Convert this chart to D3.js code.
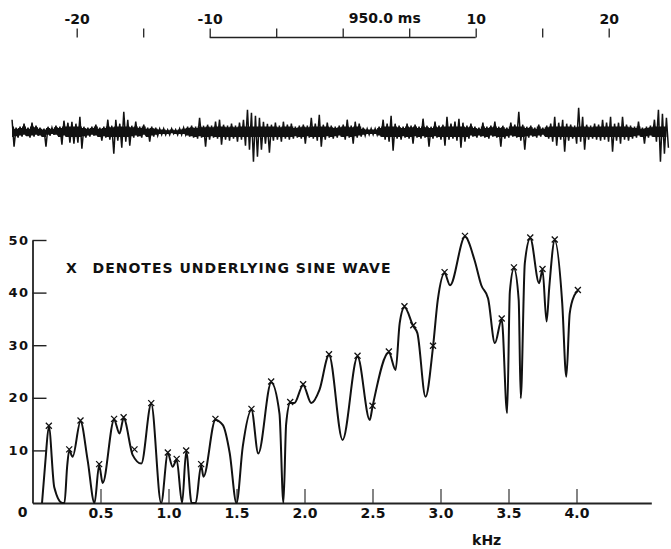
<!DOCTYPE html>
<html>
<head>
<meta charset="utf-8">
<script src="https://cdn.jsdelivr.net/npm/d3@7"></script>
<style>
body { margin: 0; background: #fff; }
text { font-family: "DejaVu Sans", sans-serif; font-weight: bold; fill: #111; }
</style>
</head>
<body>
<svg id="chart" width="671" height="549"></svg>
<script>
// time axis, ms around 950.0 ms
let timeTicks = [-20, -15, -10, -5, 0, 5, 10, 15, 20]
let timeLabelTicks = [-20, -10, 10, 20]
let centreLabel = "950.0 ms"

// waveform envelope, one column every 0.3 ms from -24.86 ms
let waveStart = -24.86, waveStep = 0.3
let waveHi = [12,4,5,8,4,9,6,4,3,5, 4,6,5,11,9,10,8,15,5,4, 5,7,4,5,12,6,12,8,20,12,
    6,10,5,7,4,5,4,3,3,2, 3,2,3,4,5,6,5,14,6,7, 6,10,12,7,6,8,6,9,12,22,
    19,16,14,10,8,7,9,6,10,7, 8,5,6,7,6,14,8,17,7,9, 6,5,6,7,12,6,10,8,4,3,
    3,3,5,12,8,16,8,6,5,8, 6,7,5,13,6,5,10,6,7,15, 8,10,13,9,6,8,5,4,9,5,
    6,10,5,6,4,9,7,20,7,5, 6,4,7,4,6,8,15,9,12,8, 7,6,24,15,7,6,8,7,12,9,
    15,8,9,15,7,6,5,10,4,5, 6,12,22,18,14]
let waveLo = [-15,-6,-5,-4,-6,-5,-4,-5,-15,-4, -3,-4,-13,-5,-11,-12,-11,-17,-6,-5, -4,-5,-9,-6,-8,-22,-9,-16,-10,-14,
    -6,-5,-6,-4,-10,-5,-4,-3,-3,-3, -2,-3,-3,-3,-5,-6,-7,-6,-15,-8, -6,-7,-13,-8,-9,-7,-10,-8,-14,-18,
    -30,-25,-18,-12,-21,-9,-8,-10,-7,-8, -7,-6,-7,-12,-6,-7,-9,-15,-8,-6, -7,-6,-5,-8,-6,-12,-6,-5,-4,-3,
    -3,-3,-5,-8,-10,-19,-7,-8,-6,-7, -12,-6,-7,-6,-15,-7,-6,-8,-14,-8, -7,-9,-16,-10,-7,-5,-6,-5,-6,-7,
    -5,-6,-15,-7,-6,-5,-6,-9,-18,-6, -5,-6,-5,-4,-7,-10,-14,-8,-20,-9, -7,-12,-10,-18,-8,-7,-8,-9,-8,-10,
    -20,-9,-12,-8,-9,-7,-6,-5,-12,-6, -5,-10,-30,-22,-16]

// spectrum (kHz, dB)
let specFreq = [0.07,0.095,0.12,0.16,0.22,0.235,0.255,0.27,0.295,0.353,0.405,0.456,0.49,0.516,0.60,0.64,0.67,0.737,0.80,0.873,
    0.946,0.995,1.03,1.06,1.10,1.13,1.17,1.20,1.24,1.257,1.345,1.40,1.45,1.50,1.546,1.61,1.66,1.755,1.816,1.845,
    1.865,1.895,1.925,1.99,2.05,2.11,2.18,2.28,2.39,2.48,2.50,2.62,2.67,2.70,2.735,2.80,2.83,2.89,2.945,2.98,
    3.03,3.07,3.18,3.25,3.30,3.35,3.40,3.45,3.49,3.51,3.54,3.575,3.59,3.62,3.66,3.725,3.75,3.78,3.80,3.84,
    3.895,3.925,3.95,3.985,4.01]
let specLevel = [0,8,14.5,3,0,0,7,10,8.8,15.5,8.2,0,7.2,3.8,15.8,13.2,16.1,9.1,7.5,18.8,
    0,9.4,6.9,8.2,0,9.8,0,0,7.2,5,15.8,14.8,9.5,0,10.7,17.7,9.4,22.9,17,0,
    15,19,19,22.4,19,21.5,28.1,12,27.8,15.8,18.3,28.6,25.3,34.2,37.2,33.6,32.3,20.2,29.7,38.6,
    43.7,41.4,50.6,46.2,41.4,38.9,30.4,34.9,17.1,40.2,44.6,38.6,19.9,45.6,50.3,41.8,44.3,34.5,41.1,49.9,
    38,24,36,39.5,40.3]

// points marked x (underlying sine waves)
let sineFreq = [0.12,0.27,0.353,0.49,0.60,0.67,0.75,0.873,0.995,1.06,1.13,1.24,1.345,1.61,1.755,1.895,
    1.99,2.18,2.39,2.50,2.62,2.735,2.80,2.945,3.03,3.18,3.45,3.54,3.66,3.75,3.84,4.01]
let sineLevel = [14.5,10,15.5,7.2,15.8,16.1,10,18.8,9.4,8.2,9.8,7.2,15.8,17.7,22.9,19,
    22.4,28.1,27.8,18.3,28.6,37.2,33.6,29.7,43.7,50.6,34.9,44.6,50.3,44.3,49.9,40.3]

let freqTicks = [0.5, 1.0, 1.5, 2.0, 2.5, 3.0, 3.5, 4.0]
let levelTicks = [10, 20, 30, 40, 50]

let chart = d3.select('#chart')

// ---- top time axis
let t = d3.scaleLinear().domain([-20, 20]).range([76.7, 608.7])
let timeY = 37.5

let timeAxis = chart.append("g")
    .attr("transform", "translate(0," + timeY + ")")
    .call(d3.axisTop(t)
        .tickValues(timeTicks)
        .tickSizeInner(9)
        .tickSizeOuter(0)
        .tickPadding(5)
        .tickFormat(function(d) { return timeLabelTicks.indexOf(d) >= 0 ? d : "" }))
timeAxis.select(".domain").remove()
timeAxis.selectAll(".tick line").attr("stroke", "#222").attr("stroke-width", 1.3)
timeAxis.selectAll("text")
    .attr("font-size", 14)
    .attr("font-family", "DejaVu Sans")
    .attr("font-weight", "bold")
    .attr("fill", "#111")

chart.append("line")
    .attr("x1", t(-10)).attr("x2", t(10))
    .attr("y1", timeY).attr("y2", timeY)
    .attr("stroke", "#222").attr("stroke-width", 1.4)

chart.append("text")
    .attr("x", t(0) + 6)
    .attr("y", timeY - 15)
    .attr("font-size", 14)
    .text(centreLabel)

// ---- waveform
let w = d3.scaleLinear().domain([-30, 30]).range([161.7, 101.7])
let wavePts = []
waveHi.forEach(function(h, i) {
    wavePts.push([waveStart + i * waveStep, h])
    wavePts.push([waveStart + (i + 0.5) * waveStep, waveLo[i]])
})
// dense core of the trace
let waveCore = d3.area()
    .x(function(d, i) { return t(waveStart + i * waveStep) })
    .y0(function(d, i) { return w(Math.max(waveLo[i], -7) * 0.75) })
    .y1(function(d, i) { return w(Math.min(d, 7) * 0.75) })
    .curve(d3.curveStep)
chart.append("path")
    .datum(waveHi)
    .attr("d", waveCore)
    .attr("fill", "#111")

let waveLine = d3.line()
    .x(function(d) { return t(d[0]) })
    .y(function(d) { return w(d[1]) })
chart.append("path")
    .datum(wavePts)
    .attr("d", waveLine)
    .attr("fill", "none")
    .attr("stroke", "#111")
    .attr("stroke-width", 1.5)

// ---- spectrum
let x = d3.scaleLinear().domain([0, 4.55]).range([32.5, 651.3])
let y = d3.scaleLinear().domain([0, 50]).range([503, 240])

let xAxis = chart.append("g")
    .attr("transform", "translate(0," + y(0) + ")")
    .call(d3.axisBottom(x)
        .tickValues(freqTicks)
        .tickSizeInner(-14)
        .tickSizeOuter(0)
        .tickPadding(5)
        .tickFormat(d3.format(".1f")))
xAxis.select(".domain").attr("stroke", "#222").attr("stroke-width", 1.8)
xAxis.selectAll(".tick line").attr("stroke", "#333").attr("stroke-width", 1.2)
xAxis.selectAll("text")
    .attr("font-size", 14)
    .attr("font-family", "DejaVu Sans")
    .attr("font-weight", "bold")
    .attr("fill", "#111")

let yAxis = chart.append("g")
    .attr("transform", "translate(" + x(0) + ",0)")
    .call(d3.axisLeft(y)
        .tickValues(levelTicks)
        .tickSizeInner(-14)
        .tickSizeOuter(0)
        .tickPadding(3))
yAxis.select(".domain").attr("stroke", "#222").attr("stroke-width", 1.8)
yAxis.selectAll(".tick line").attr("stroke", "#222").attr("stroke-width", 1.4)
yAxis.selectAll("text")
    .attr("font-size", 13)
    .attr("font-family", "DejaVu Sans")
    .attr("font-weight", "bold")
    .attr("letter-spacing", 1.5)
    .attr("fill", "#111")

chart.append("text")
    .attr("x", x(0) - 10)
    .attr("y", 517)
    .attr("text-anchor", "middle")
    .attr("font-size", 14)
    .text("0")

chart.append("text")
    .attr("x", 486.7)
    .attr("y", 545)
    .attr("text-anchor", "middle")
    .attr("font-size", 14)
    .text("kHz")

// legend note
chart.append("text")
    .attr("x", 66)
    .attr("y", 273)
    .attr("font-size", 14)
    .text("X")
chart.append("text")
    .attr("x", 92.5)
    .attr("y", 273)
    .attr("font-size", 14)
    .attr("textLength", 298)
    .attr("lengthAdjust", "spacing")
    .text("DENOTES UNDERLYING SINE WAVE")

let specData = specFreq.map(function(f, i) { return {f: f, v: specLevel[i]} })
let specLine = d3.line()
    .x(function(d) { return x(d.f) })
    .y(function(d) { return y(d.v) })
    .curve(d3.curveMonotoneX)
chart.append("path")
    .datum(specData)
    .attr("d", specLine)
    .attr("fill", "none")
    .attr("stroke", "#111")
    .attr("stroke-width", 2)
    .attr("stroke-linejoin", "round")

let sineData = sineFreq.map(function(f, i) { return {f: f, v: sineLevel[i]} })
let marks = chart.selectAll(".mark")
    .data(sineData)
    .enter().append("path")
        .attr("class", "mark")
        .attr("transform", function(d) { return "translate(" + x(d.f) + "," + (y(d.v) - 1) + ")" })
        .attr("d", "M-3,-3L3,3M-3,3L3,-3")
        .attr("stroke", "#111")
        .attr("stroke-width", 1.3)
</script>
</body>
</html>
